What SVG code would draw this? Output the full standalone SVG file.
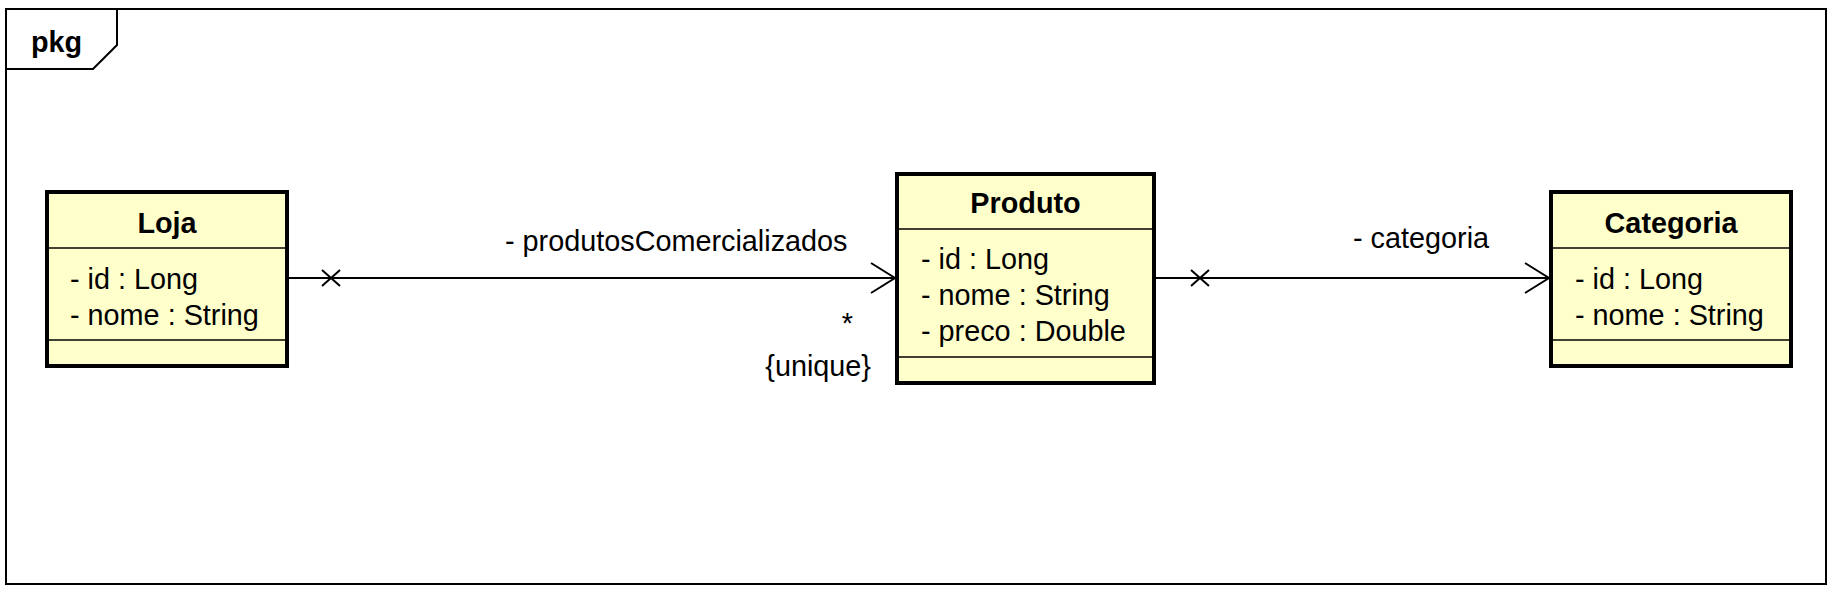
<svg xmlns="http://www.w3.org/2000/svg" width="1835" height="594" viewBox="0 0 1835 594">
<style>
text{font-family:"Liberation Sans",Arial,sans-serif;font-size:28.8px;fill:#000}
.t{font-weight:bold;text-anchor:middle}
.box{fill:#FFFFCC;stroke:#000;stroke-width:4}
.div{stroke:#000;stroke-width:1.6}
.ln{stroke:#000;stroke-width:2;fill:none}
</style>
<rect width="1835" height="594" fill="#fff"/>
<g id="frame">
<rect x="6" y="9" width="1820" height="575" class="ln"/>
<path d="M6,69 H93 L117,45 V9" class="ln"/>
<text x="31" y="52" style="font-weight:bold">pkg</text>
</g>
<g id="connectors">
<line x1="289" y1="278" x2="895" y2="278" class="ln"/>
<path d="M322,270 L340,286 M340,270 L322,286" class="ln"/>
<path d="M871,263 L895,278 L871,293" class="ln"/>
<text x="505" y="251">- produtosComercializados</text>
<text x="853" y="333" style="text-anchor:end">*</text>
<text x="871" y="376" style="text-anchor:end">{unique}</text>
<line x1="1156" y1="278" x2="1549" y2="278" class="ln"/>
<path d="M1191,270 L1209,286 M1209,270 L1191,286" class="ln"/>
<path d="M1525,263 L1549,278 L1525,293" class="ln"/>
<text x="1353" y="248">- categoria</text>
</g>
<g id="Loja">
<rect x="47" y="192" width="240" height="174" class="box"/>
<line x1="49" y1="248" x2="285" y2="248" class="div"/>
<line x1="49" y1="340" x2="285" y2="340" class="div"/>
<text x="167" y="233" class="t">Loja</text>
<text x="70" y="288.5">- id : Long</text>
<text x="70" y="324.5">- nome : String</text>
</g>
<g id="Produto">
<rect x="897" y="174" width="257" height="209" class="box"/>
<line x1="899" y1="229" x2="1152" y2="229" class="div"/>
<line x1="899" y1="357" x2="1152" y2="357" class="div"/>
<text x="1025.5" y="213" class="t">Produto</text>
<text x="921" y="268.5">- id : Long</text>
<text x="921" y="304.5">- nome : String</text>
<text x="921" y="340.5">- preco : Double</text>
</g>
<g id="Categoria">
<rect x="1551" y="192" width="240" height="174" class="box"/>
<line x1="1553" y1="248" x2="1789" y2="248" class="div"/>
<line x1="1553" y1="340" x2="1789" y2="340" class="div"/>
<text x="1671" y="233" class="t">Categoria</text>
<text x="1575" y="288.5">- id : Long</text>
<text x="1575" y="324.5">- nome : String</text>
</g>
</svg>
